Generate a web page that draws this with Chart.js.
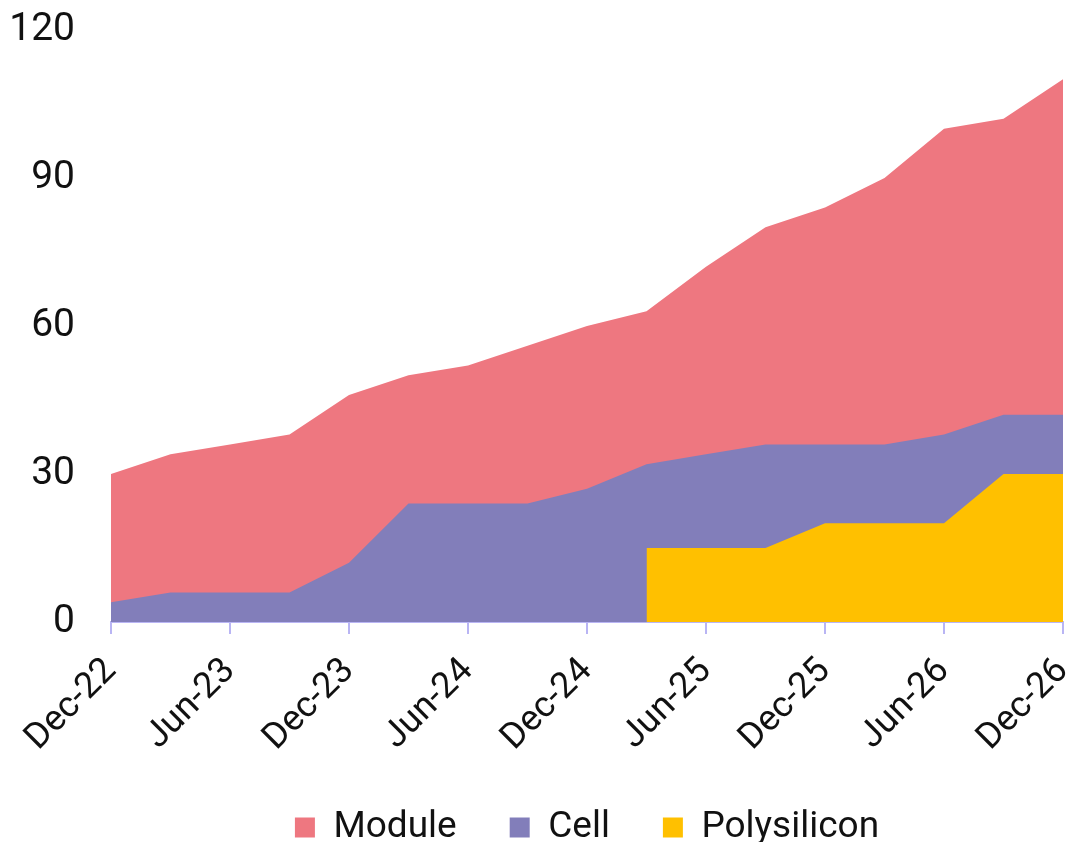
<!DOCTYPE html>
<html>
<head>
<meta charset="utf-8">
<script src="https://cdn.jsdelivr.net/npm/chart.js@4"></script>
<style>
  html, body { margin: 0; padding: 0; background: #fff; }
  #wrap { width: 1076px; height: 842px; }
</style>
</head>
<body>
<div id="wrap"><canvas id="c"></canvas></div>
<script>
// Quarterly points, labels shown every half year
const quarters = ['Dec-22', 'Mar-23', 'Jun-23', 'Sep-23', 'Dec-23', 'Mar-24', 'Jun-24', 'Sep-24',
  'Dec-24', 'Mar-25', 'Jun-25', 'Sep-25', 'Dec-25', 'Mar-26', 'Jun-26', 'Sep-26', 'Dec-26'];
const moduleCap = [30, 34, 36, 38, 46, 50, 52, 56, 60, 63, 72, 80, 84, 90, 100, 102, 110];
const cellCap   = [4, 6, 6, 6, 12, 24, 24, 24, 27, 32, 34, 36, 36, 36, 38, 42, 42];
const polyCap   = [null, null, null, null, null, null, null, null, null, 15, 15, 15, 20, 20, 20, 30, 30];
const yTicks    = [0, 30, 60, 90, 120];

const AXIS = '#B9B5F4';
const INK = '#111';

const area = (label, data, color, order) => ({
  label, data, order,
  backgroundColor: color,
  borderColor: color,
  borderWidth: 0,
  fill: 'origin',
  pointRadius: 0,
  tension: 0,
});

new Chart(document.getElementById('c'), {
  type: 'line',
  data: {
    labels: quarters,
    datasets: [
      area('Module', moduleCap, '#EE7780', 3),
      area('Cell', cellCap, '#827EBA', 2),
      area('Polysilicon', polyCap, '#FFC000', 1),
    ],
  },
  options: {
    responsive: true,
    maintainAspectRatio: false,
    animation: false,
    layout: { padding: { top: 30, right: 13, left: 12, bottom: -14 } },
    plugins: {
      tooltip: { enabled: false },
      legend: {
        position: 'bottom',
        fullSize: false,
        labels: {
          font: { family: 'Roboto', size: 37 },
          color: INK,
          boxWidth: 20,
          boxHeight: 20,
          padding: 53,
          sort: (a, b) => a.datasetIndex - b.datasetIndex,
        },
      },
    },
    scales: {
      x: {
        offset: false,
        border: { color: AXIS, width: 2 },
        grid: { drawOnChartArea: false, drawTicks: true, tickLength: 12, color: AXIS, lineWidth: 2 },
        ticks: {
          font: { family: 'Roboto', size: 36 },
          color: INK,
          autoSkip: false,
          minRotation: 45,
          maxRotation: 45,
          padding: 16,
          callback: (v, i) => (i % 2 === 0 ? quarters[i] : null),
        },
        afterFit: (axis) => { axis.paddingLeft = 0; axis.paddingRight = 0; axis.height = 134; },
      },
      y: {
        min: 0,
        max: 120,
        border: { display: false },
        grid: { display: false, drawTicks: false },
        afterBuildTicks: (axis) => { axis.ticks = yTicks.map(v => ({ value: v })); },
        ticks: { font: { family: 'Roboto', size: 39 }, color: INK, padding: 36 },
        afterFit: (axis) => { axis.paddingTop = 0; axis.paddingBottom = 0; axis.width = 99; },
      },
    },
  },
});
</script>
</body>
</html>
